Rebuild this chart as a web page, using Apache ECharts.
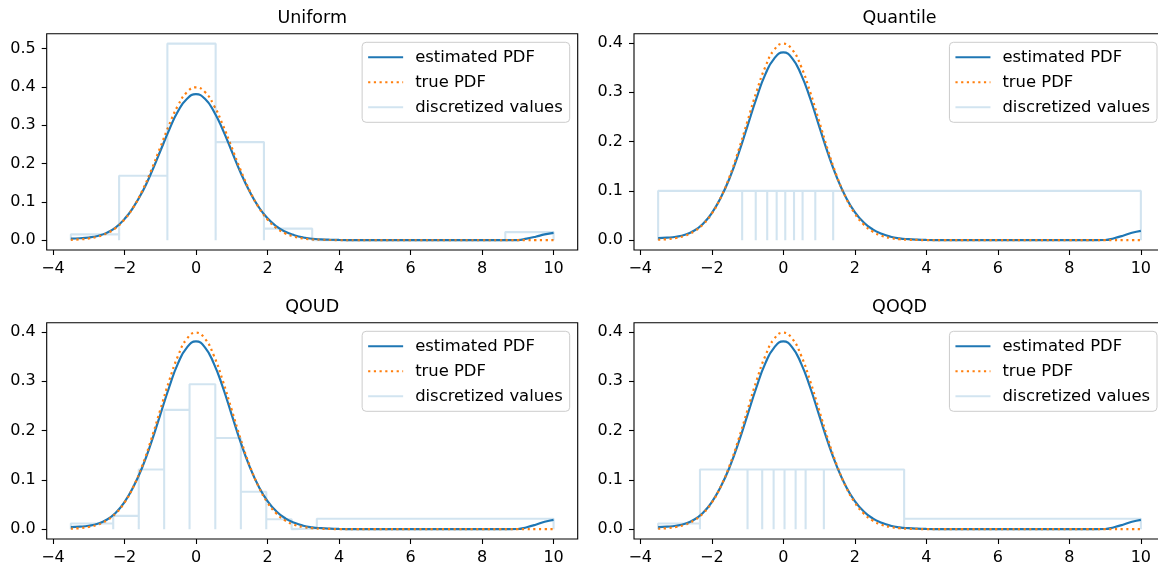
<!DOCTYPE html>
<html>
<head>
<meta charset="utf-8">
<script src="https://cdn.jsdelivr.net/npm/echarts@6/dist/echarts.min.js"></script>
<style>
  html, body { margin: 0; padding: 0; background: #fff; overflow: hidden; }
  #chart { width: 1158px; height: 570px; }
</style>
</head>
<body>
<div id="chart"></div>
<script>
// ---- data -------------------------------------------------------------
const panelTitles = ['Uniform', 'Quantile', 'QOUD', 'QOQD'];
const seriesNames = ['estimated PDF', 'true PDF', 'discretized values'];

// evaluation grid shared by the two density curves
const xGrid = [-3.5, -3.25, -3.0, -2.75, -2.5, -2.25, -2.0, -1.75, -1.5, -1.25, -1.0, -0.75, -0.5, -0.25,
  0, 0.25, 0.5, 0.75, 1.0, 1.25, 1.5, 1.75, 2.0, 2.25, 2.5, 2.75, 3.0, 3.25, 3.5, 3.75, 4.0, 4.5,
  5.0, 6.0, 7.0, 8.0, 8.5, 8.75, 9.0, 9.25, 9.5, 9.75, 10.0];

const estimatedPdf = [0.004, 0.005, 0.007, 0.011, 0.019, 0.033, 0.055, 0.086, 0.126, 0.176, 0.232, 0.288, 0.337, 0.369,
  0.381, 0.369, 0.336, 0.288, 0.232, 0.176, 0.127, 0.087, 0.057, 0.036, 0.022, 0.013, 0.007, 0.0037, 0.002, 0.001, 0.0005, 0.0001,
  0, 0, 0, 0, 0, 0, 0.0003, 0.004, 0.009, 0.015, 0.019];

const truePdf = [0.0009, 0.0020, 0.0044, 0.0091, 0.0175, 0.0317, 0.0540, 0.0863, 0.1295, 0.1826, 0.2420, 0.3011, 0.3521, 0.3867,
  0.3989, 0.3867, 0.3521, 0.3011, 0.2420, 0.1826, 0.1295, 0.0863, 0.0540, 0.0317, 0.0175, 0.0091, 0.0044, 0.0020, 0.0009, 0.0004, 0.0001, 0,
  0, 0, 0, 0, 0, 0, 0, 0, 0, 0, 0];

// bin edges and bin probabilities of each discretization
const uniformEdges = [-3.5, -2.15, -0.8, 0.55, 1.9, 3.25, 4.6, 5.95, 7.3, 8.65, 10];
const uniformProbs = [0.015, 0.168, 0.513, 0.256, 0.030, 0, 0, 0, 0, 0.021];

const quantileEdges = [-3.5, -1.15, -0.77, -0.45, -0.185, 0.055, 0.30, 0.54, 0.895, 1.395, 10];
const quantileProbs = [0.1, 0.1, 0.1, 0.1, 0.1, 0.1, 0.1, 0.1, 0.1, 0.1];

const qoudEdges = [-3.5, -2.315, -1.6, -0.89, -0.18, 0.54, 1.255, 1.965, 2.675, 3.38, 10];
const qoudProbs = [0.0115, 0.027, 0.121, 0.242, 0.294, 0.185, 0.076, 0.020, 0.0015, 0.021];

const qoqdEdges = [-3.5, -2.33, -1.0, -0.59, -0.27, 0.035, 0.345, 0.625, 1.135, 3.38, 10];
const qoqdProbs = [0.0115, 0.121, 0.121, 0.121, 0.121, 0.121, 0.121, 0.121, 0.121, 0.021];

const xTicks = [-4, -2, 0, 2, 4, 6, 8, 10];
const yTicksWide = [0, 0.1, 0.2, 0.3, 0.4, 0.5];
const yTicks = [0, 0.1, 0.2, 0.3, 0.4];

// ---- layout -----------------------------------------------------------
const FONT = 'DejaVu Sans';
const BLUE = '#1f77b4';
const ORANGE = '#ff7f0e';
const PALE = 'rgba(31,119,180,0.2)';

// the right-hand column runs past the canvas edge on the right
const grids = [
  { left: 46.7, top: 33.7, width: 531, height: 216.3 },
  { left: 634, top: 33.7, width: 531, height: 216.3 },
  { left: 46.7, top: 322.7, width: 531, height: 216.3 },
  { left: 634, top: 322.7, width: 531, height: 216.3 }
];
const xRange = [-4.175, 10.675];
const yRanges = [[-0.0257, 0.539], [-0.01995, 0.419], [-0.01995, 0.419], [-0.01995, 0.419]];
const yTickSets = [yTicksWide, yTicks, yTicks, yTicks];
const bins = [
  [uniformEdges, uniformProbs],
  [quantileEdges, quantileProbs],
  [qoudEdges, qoudProbs],
  [qoqdEdges, qoqdProbs]
];

// outline of the bins: up the left edge, across the top, down the right edge
function binOutline(edges, probs) {
  const pts = [];
  for (let i = 0; i < probs.length; i++) {
    pts.push([edges[i], 0], [edges[i], probs[i]], [edges[i + 1], probs[i]], [edges[i + 1], 0]);
  }
  return pts;
}
const curve = ys => xGrid.map((x, i) => [x, ys[i]]);
const minus = v => String(v).replace('-', '\u2212');

const option = {
  animation: false,
  backgroundColor: '#ffffff',
  title: [],
  legend: [],
  grid: [],
  xAxis: [],
  yAxis: [],
  series: []
};

grids.forEach((g, k) => {
  option.grid.push(Object.assign({
    show: true, borderColor: '#000', borderWidth: 1.1, backgroundColor: 'transparent',
    containLabel: false, outerBoundsMode: 'none'
  }, g));

  option.title.push({
    text: panelTitles[k],
    left: g.left + g.width / 2,
    top: g.top - 24,
    textAlign: 'center',
    padding: 0,
    textStyle: { fontFamily: FONT, fontSize: 17.5, fontWeight: 'normal', color: '#000' }
  });

  option.legend.push({
    orient: 'vertical',
    right: 1158 - (g.left + g.width - 8),
    top: g.top + 8.6,
    itemWidth: 35,
    itemHeight: 14,
    itemGap: 9,
    padding: [7, 7, 7, 5],
    backgroundColor: 'rgba(255,255,255,0.8)',
    borderColor: '#cccccc',
    borderWidth: 1,
    borderRadius: 4,
    selectedMode: false,
    itemStyle: { opacity: 0 },
    textStyle: { fontFamily: FONT, fontSize: 16.4, color: '#000', padding: [0, 0, 0, 7] },
    data: seriesNames
  });

  option.xAxis.push({
    type: 'value', gridIndex: k,
    min: xRange[0], max: xRange[1],
    axisLine: { show: false, onZero: false },
    splitLine: { show: false },
    axisTick: { show: true, inside: false, length: 5, customValues: xTicks, lineStyle: { color: '#000', width: 1.1 } },
    axisLabel: { customValues: xTicks, margin: 11, formatter: minus, fontFamily: FONT, fontSize: 16, color: '#000' }
  });

  option.yAxis.push({
    type: 'value', gridIndex: k,
    min: yRanges[k][0], max: yRanges[k][1],
    axisLine: { show: false, onZero: false },
    splitLine: { show: false },
    axisTick: { show: true, inside: false, length: 5, customValues: yTickSets[k], lineStyle: { color: '#000', width: 1.1 } },
    axisLabel: { customValues: yTickSets[k], margin: 11, formatter: v => v.toFixed(1), fontFamily: FONT, fontSize: 16, color: '#000' }
  });

  option.series.push(
    {
      name: seriesNames[0], type: 'line', xAxisIndex: k, yAxisIndex: k,
      data: curve(estimatedPdf), smooth: 0.5, symbol: 'none',
      lineStyle: { color: BLUE, width: 2.2 }, itemStyle: { color: BLUE }
    },
    {
      name: seriesNames[1], type: 'line', xAxisIndex: k, yAxisIndex: k,
      data: curve(truePdf), smooth: 0.5, symbol: 'none',
      lineStyle: { color: ORANGE, width: 2.2, type: [2.2, 3.5], cap: 'butt' }, itemStyle: { color: ORANGE }
    },
    {
      name: seriesNames[2], type: 'line', xAxisIndex: k, yAxisIndex: k,
      data: binOutline(bins[k][0], bins[k][1]), symbol: 'none',
      lineStyle: { color: PALE, width: 2.1 }, itemStyle: { color: PALE }
    }
  );
});

const chart = echarts.init(document.getElementById('chart'), null, { renderer: 'canvas' });
chart.setOption(option);
</script>
</body>
</html>
